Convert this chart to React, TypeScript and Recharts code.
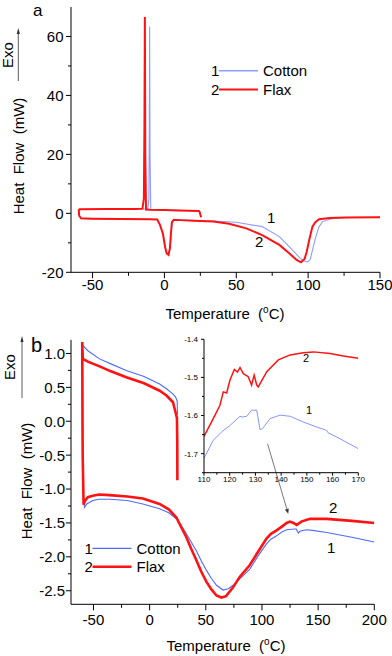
import { LineChart, Line, XAxis, YAxis, ReferenceLine } from 'recharts'

// panel a: cooling then heating, points in scan order (T °C, heat flow mW)
const cottonA = [
  { t: 25.5, v: -1.3 }, { t: 24.5, v: 0.5 }, { t: 24, v: 0.8 }, { t: 10, v: 1.0 }, { t: 0, v: 1.1 },
  { t: -9.5, v: 1.2 }, { t: -10.0, v: 20 }, { t: -10.3, v: 63.3 }, { t: -10.5, v: 30 }, { t: -10.8, v: 5 },
  { t: -11.5, v: 1.5 }, { t: -20, v: 1.4 }, { t: -40, v: 1.4 }, { t: -59, v: 1.3 }, { t: -59.6, v: 1.0 },
  { t: -59.3, v: -0.8 }, { t: -58, v: -1.8 }, { t: -30, v: -2.0 }, { t: -5, v: -2.1 }, { t: -3, v: -4 },
  { t: -1, v: -7 }, { t: 0.5, v: -11.5 }, { t: 1.8, v: -13.5 }, { t: 3.0, v: -13.8 }, { t: 4, v: -11.5 },
  { t: 4.8, v: -6.5 }, { t: 5.5, v: -3 }, { t: 7, v: -2.2 }, { t: 20, v: -2.4 }, { t: 34, v: -2.6 },
  { t: 50, v: -3.0 }, { t: 57, v: -3.6 }, { t: 68, v: -4.5 }, { t: 80, v: -7.9 }, { t: 89, v: -12.4 },
  { t: 94, v: -15 }, { t: 97.2, v: -16.2 }, { t: 99.5, v: -16.5 }, { t: 101.5, v: -15.6 }, { t: 103, v: -12.5 },
  { t: 105, v: -8.5 }, { t: 107.5, v: -4.6 }, { t: 110, v: -2.8 }, { t: 115, v: -2.0 }, { t: 120, v: -1.6 },
  { t: 130, v: -1.4 }, { t: 150, v: -1.3 },
]
const flaxA = [
  { t: 25.5, v: -1.3 }, { t: 24.5, v: 0.5 }, { t: 24, v: 0.8 }, { t: 10, v: 1.0 }, { t: 0, v: 1.1 },
  { t: -10, v: 1.2 }, { t: -12.8, v: 1.3 }, { t: -13.3, v: 20 }, { t: -13.6, v: 66.6 }, { t: -13.9, v: 30 },
  { t: -14.3, v: 5 }, { t: -15.3, v: 1.6 }, { t: -20, v: 1.5 }, { t: -40, v: 1.5 }, { t: -59, v: 1.4 },
  { t: -59.6, v: 1.0 }, { t: -59.3, v: -0.8 }, { t: -58, v: -1.7 }, { t: -50, v: -1.8 }, { t: -30, v: -1.9 },
  { t: -10, v: -2.0 }, { t: -5, v: -2.1 }, { t: -3, v: -4 }, { t: -1, v: -7 }, { t: 0.5, v: -11.5 },
  { t: 1.5, v: -13.5 }, { t: 2.8, v: -14.1 }, { t: 3.8, v: -12 }, { t: 4.5, v: -7 }, { t: 5.2, v: -3.0 },
  { t: 6.5, v: -2.2 }, { t: 11, v: -2.3 }, { t: 20, v: -2.5 }, { t: 34, v: -2.8 }, { t: 45, v: -3.5 },
  { t: 57, v: -5.1 }, { t: 68, v: -7.4 }, { t: 80, v: -10.7 }, { t: 87, v: -13.6 }, { t: 92, v: -15.8 },
  { t: 95, v: -16.6 }, { t: 97.5, v: -15.5 }, { t: 99, v: -13 }, { t: 100.7, v: -9.1 }, { t: 103, v: -4.5 },
  { t: 105, v: -3.0 }, { t: 107.6, v: -2.0 }, { t: 115, v: -1.6 }, { t: 126, v: -1.4 }, { t: 150, v: -1.3 },
]

// panel b
const cottonB = [
  { t: 24.8, v: 0.1 }, { t: 24.5, v: 0.3 }, { t: 23, v: 0.36 }, { t: 20.8, v: 0.4 }, { t: 15, v: 0.48 },
  { t: 8.9, v: 0.55 }, { t: -5, v: 0.66 }, { t: -20.8, v: 0.75 }, { t: -35, v: 0.85 }, { t: -44.6, v: 0.92 },
  { t: -55, v: 1.04 }, { t: -59.5, v: 1.12 }, { t: -60, v: 1.13 }, { t: -60, v: 0 }, { t: -59.3, v: -1.0 },
  { t: -58, v: -1.27 }, { t: -56, v: -1.22 }, { t: -50.6, v: -1.17 }, { t: -45, v: -1.15 }, { t: -35.7, v: -1.15 },
  { t: -20, v: -1.17 }, { t: -6, v: -1.22 }, { t: 8.8, v: -1.29 }, { t: 17, v: -1.35 }, { t: 23.8, v: -1.44 },
  { t: 28, v: -1.53 }, { t: 32.7, v: -1.66 }, { t: 37, v: -1.78 }, { t: 41.6, v: -1.91 }, { t: 46, v: -2.06 },
  { t: 50.6, v: -2.2 }, { t: 55, v: -2.32 }, { t: 59.5, v: -2.42 }, { t: 65.4, v: -2.49 }, { t: 70, v: -2.47 },
  { t: 74.3, v: -2.42 }, { t: 80, v: -2.33 }, { t: 89.2, v: -2.18 }, { t: 96, v: -2.0 }, { t: 104, v: -1.81 },
  { t: 108, v: -1.74 }, { t: 113, v: -1.69 }, { t: 118, v: -1.63 }, { t: 122, v: -1.6 }, { t: 129, v: -1.59 },
  { t: 130.5, v: -1.59 }, { t: 132.3, v: -1.65 }, { t: 134, v: -1.62 }, { t: 139.8, v: -1.6 }, { t: 145, v: -1.61 },
  { t: 157.6, v: -1.64 }, { t: 180, v: -1.71 }, { t: 200, v: -1.78 },
]
const flaxB = [
  { t: 24.7, v: -0.87 }, { t: 24.6, v: -0.3 }, { t: 24.3, v: 0.05 }, { t: 23.1, v: 0.13 }, { t: 20.8, v: 0.28 },
  { t: 15, v: 0.38 }, { t: 8.9, v: 0.45 }, { t: -5, v: 0.56 }, { t: -20.8, v: 0.65 }, { t: -35, v: 0.74 },
  { t: -44.6, v: 0.81 }, { t: -55, v: 0.88 }, { t: -59.5, v: 0.92 }, { t: -60, v: 1.17 }, { t: -59.6, v: -0.5 },
  { t: -58.8, v: -1.23 }, { t: -57.5, v: -1.17 }, { t: -55, v: -1.12 }, { t: -50.6, v: -1.1 }, { t: -45, v: -1.08 },
  { t: -35.7, v: -1.09 }, { t: -20, v: -1.11 }, { t: -6, v: -1.14 }, { t: 8.8, v: -1.22 }, { t: 17, v: -1.3 },
  { t: 23.8, v: -1.42 }, { t: 28, v: -1.56 }, { t: 32.7, v: -1.71 }, { t: 37, v: -1.88 }, { t: 41.6, v: -2.05 },
  { t: 46, v: -2.22 }, { t: 50.6, v: -2.37 }, { t: 55, v: -2.48 }, { t: 59.5, v: -2.57 }, { t: 63.9, v: -2.6 },
  { t: 68, v: -2.58 }, { t: 74.3, v: -2.45 }, { t: 80, v: -2.3 }, { t: 89.2, v: -2.12 }, { t: 96, v: -1.94 },
  { t: 104, v: -1.73 }, { t: 108, v: -1.66 }, { t: 113, v: -1.61 }, { t: 118, v: -1.55 }, { t: 122, v: -1.5 },
  { t: 124.9, v: -1.48 }, { t: 128, v: -1.5 }, { t: 130.9, v: -1.53 }, { t: 135, v: -1.48 }, { t: 142.7, v: -1.44 },
  { t: 157.6, v: -1.44 }, { t: 180, v: -1.47 }, { t: 200, v: -1.5 },
]

// inset, 110-170 °C
const cottonInset = [
  { t: 110, v: -1.712 }, { t: 113.6, v: -1.665 }, { t: 117, v: -1.642 }, { t: 120.1, v: -1.626 }, { t: 124, v: -1.602 },
  { t: 125, v: -1.604 }, { t: 126.6, v: -1.602 }, { t: 128.5, v: -1.586 }, { t: 130.5, v: -1.586 }, { t: 131.8, v: -1.637 },
  { t: 132.8, v: -1.634 }, { t: 135.7, v: -1.608 }, { t: 139.6, v: -1.599 }, { t: 143.5, v: -1.602 }, { t: 148.6, v: -1.617 },
  { t: 153.8, v: -1.63 }, { t: 157.7, v: -1.639 }, { t: 158.2, v: -1.645 }, { t: 162.9, v: -1.661 }, { t: 170, v: -1.687 },
]
const flaxInset = [
  { t: 110, v: -1.655 }, { t: 113.6, v: -1.608 }, { t: 116.2, v: -1.573 }, { t: 117.5, v: -1.538 }, { t: 118.8, v: -1.541 },
  { t: 120.1, v: -1.507 }, { t: 121.8, v: -1.479 }, { t: 123, v: -1.486 }, { t: 124, v: -1.474 }, { t: 125.3, v: -1.49 },
  { t: 127.2, v: -1.498 }, { t: 128.5, v: -1.52 }, { t: 129.5, v: -1.494 }, { t: 130.5, v: -1.52 }, { t: 131.1, v: -1.525 },
  { t: 134.4, v: -1.485 }, { t: 138.9, v: -1.454 }, { t: 143.5, v: -1.441 }, { t: 148.6, v: -1.435 }, { t: 152.5, v: -1.433 },
  { t: 159, v: -1.437 }, { t: 164.2, v: -1.444 }, { t: 170, v: -1.45 },
]

const ticksAX = [-50, -25, 0, 25, 50, 75, 100, 125, 150]
const ticksAY = [-20, -10, 0, 10, 20, 30, 40, 50, 60]
const ticksBX = [-50, -25, 0, 25, 50, 75, 100, 125, 150, 175, 200]
const ticksBY = [-2.5, -2.25, -2.0, -1.75, -1.5, -1.25, -1.0, -0.75, -0.5, -0.25, 0, 0.25, 0.5, 0.75, 1.0]
const ticksIX = [110, 115, 120, 125, 130, 135, 140, 145, 150, 155, 160, 165, 170]
const ticksIY = [-1.75, -1.7, -1.65, -1.6, -1.55, -1.5, -1.45, -1.4]

const seriesNames = ['Cotton', 'Flax']

const FONT = '"Liberation Sans", Arial, sans-serif'
const RED = '#ff1212'
const BLUE_A = '#8e9bff'
const BLUE_B = '#4d6bff'

type TickOpts = {
  step: number
  len: number
  minorLen: number
  size: number
  gap: number
  side: 'bottom' | 'left'
  fmt: (v: number) => string
}

function makeTick(o: TickOpts) {
  return (props: any) => {
    const { x, y, payload } = props
    const v = payload.value
    const major = Math.abs(v / o.step - Math.round(v / o.step)) < 1e-6
    const l = major ? o.len : o.minorLen
    if (o.side === 'bottom') {
      return (
        <g>
          <line x1={x} y1={y} x2={x} y2={y + l} stroke="#000" />
          {major && (
            <text x={x} y={y + o.gap} textAnchor="middle" fontSize={o.size} fontFamily={FONT} fill="#000">
              {o.fmt(v)}
            </text>
          )}
        </g>
      )
    }
    return (
      <g>
        <line x1={x} y1={y} x2={x - l} y2={y} stroke="#000" />
        {major && (
          <text x={x - o.gap} y={y} dy="0.36em" textAnchor="end" fontSize={o.size} fontFamily={FONT} fill="#000">
            {o.fmt(v)}
          </text>
        )}
      </g>
    )
  }
}

const int = (v: number) => String(Math.round(v))
const one = (v: number) => v.toFixed(1)

function ArrowLine(props: any) {
  const { x1, y1, x2, y2 } = props
  const dx = x2 - x1
  const dy = y2 - y1
  const d = Math.sqrt(dx * dx + dy * dy)
  const ux = dx / d
  const uy = dy / d
  const hl = 5
  const hw = 2
  const bx = x2 - ux * hl
  const by = y2 - uy * hl
  return (
    <g>
      <line x1={x1} y1={y1} x2={bx} y2={by} stroke="#555" strokeWidth={0.8} />
      <polygon
        points={`${x2},${y2} ${bx - uy * hw},${by + ux * hw} ${bx + uy * hw},${by - ux * hw}`}
        fill="#333"
      />
    </g>
  )
}

function TempTitle({ x, y }: { x: number; y: number }) {
  return (
    <text x={x} y={y} textAnchor="middle" fontSize={15} fontFamily={FONT} style={{ whiteSpace: 'pre' }}>
      {'Temperature  ('}
      <tspan fontSize={10} dy={-6}>o</tspan>
      <tspan dy={6}>C)</tspan>
    </text>
  )
}

function YTitle({ x, y }: { x: number; y: number }) {
  return (
    <text
      transform={`translate(${x},${y}) rotate(-90)`}
      textAnchor="middle"
      fontSize={15}
      fontFamily={FONT}
      style={{ whiteSpace: 'pre' }}
    >
      {'Heat  Flow  (mW)'}
    </text>
  )
}

function Exo({ x, y, ax, top, bottom }: { x: number; y: number; ax: number; top: number; bottom: number }) {
  return (
    <g>
      <text transform={`translate(${x},${y}) rotate(-90)`} textAnchor="middle" fontSize={15} fontFamily={FONT}>
        Exo
      </text>
      <line x1={ax} y1={bottom} x2={ax} y2={top + 4} stroke="#333" strokeWidth={0.8} />
      <polygon points={`${ax},${top} ${ax - 1.6},${top + 6} ${ax + 1.6},${top + 6}`} fill="#333" />
    </g>
  )
}

function LegendBox({ x, y, dy, colors, widths }: { x: number; y: number; dy: number; colors: string[]; widths: number[] }) {
  return (
    <g fontFamily={FONT} fontSize={15}>
      {seriesNames.map((n, i) => (
        <g key={n}>
          <text x={x} y={y + i * dy + 5.5}>{i + 1}</text>
          <line x1={x + 8} x2={x + 47} y1={y + i * dy} y2={y + i * dy} stroke={colors[i]} strokeWidth={widths[i]} />
          <text x={x + 52} y={y + i * dy + 5.5}>{n}</text>
        </g>
      ))}
    </g>
  )
}

export default function App() {
  return (
    <div style={{ position: 'absolute', left: 0, top: 0, width: 392, height: 656, background: '#fff', fontFamily: FONT }}>
      <div style={{ position: 'absolute', left: 0, top: 0 }}>
        <LineChart width={392} height={330} margin={{ top: 7, right: 12, bottom: 0, left: 0 }}>
          <XAxis
            dataKey="t"
            type="number"
            domain={[-65, 150]}
            allowDataOverflow
            ticks={ticksAX}
            interval={0}
            height={57.7}
            tickSize={0}
            tickMargin={0}
            stroke="#000"
            tick={makeTick({ step: 50, len: 6, minorLen: 3.5, size: 15, gap: 18, side: 'bottom', fmt: int })}
          />
          <YAxis
            type="number"
            domain={[-20, 70]}
            allowDataOverflow
            ticks={ticksAY}
            interval={0}
            width={71}
            tickSize={0}
            tickMargin={0}
            stroke="#000"
            tick={makeTick({ step: 20, len: 5, minorLen: 3, size: 15, gap: 7.5, side: 'left', fmt: int })}
          />
          <Line data={cottonA} dataKey="v" name="Cotton" type="linear" dot={false} stroke={BLUE_A} strokeWidth={1.1} isAnimationActive={false} />
          <Line data={flaxA} dataKey="v" name="Flax" type="linear" dot={false} stroke={RED} strokeWidth={2} isAnimationActive={false} />
        </LineChart>
      </div>

      <div style={{ position: 'absolute', left: 0, top: 332 }}>
        <LineChart width={392} height={324} margin={{ top: 7.9, right: 17.7, bottom: 0, left: 0 }}>
          <XAxis
            dataKey="t"
            type="number"
            domain={[-70, 200]}
            allowDataOverflow
            ticks={ticksBX}
            interval={0}
            height={51.7}
            tickSize={0}
            tickMargin={0}
            stroke="#000"
            tick={makeTick({ step: 50, len: 6, minorLen: 3.5, size: 15, gap: 21, side: 'bottom', fmt: int })}
          />
          <YAxis
            type="number"
            domain={[-2.7, 1.2]}
            allowDataOverflow
            ticks={ticksBY}
            interval={0}
            width={71}
            tickSize={0}
            tickMargin={0}
            stroke="#000"
            tick={makeTick({ step: 0.5, len: 5, minorLen: 3, size: 15, gap: 6, side: 'left', fmt: one })}
          />
          <Line data={cottonB} dataKey="v" name="Cotton" type="linear" dot={false} stroke={BLUE_B} strokeWidth={1.1} isAnimationActive={false} />
          <Line data={flaxB} dataKey="v" name="Flax" type="linear" dot={false} stroke={RED} strokeWidth={2.6} isAnimationActive={false} />
          <ReferenceLine
            segment={[{ x: 105, y: -0.333 }, { x: 123.4, y: -1.366 }]}
            shape={ArrowLine}
          />
        </LineChart>
      </div>

      <div style={{ position: 'absolute', left: 170, top: 330 }}>
        <LineChart width={200} height={160} margin={{ top: 9.3, right: 11.7, bottom: 0, left: 0 }}>
          <XAxis
            dataKey="t"
            type="number"
            domain={[110, 170]}
            allowDataOverflow
            ticks={ticksIX}
            interval={0}
            height={17.3}
            tickSize={0}
            tickMargin={0}
            stroke="#000"
            tick={makeTick({ step: 10, len: 3, minorLen: 2, size: 8, gap: 9.5, side: 'bottom', fmt: int })}
          />
          <YAxis
            type="number"
            domain={[-1.75, -1.4]}
            allowDataOverflow
            ticks={ticksIY}
            interval={0}
            width={34}
            tickSize={0}
            tickMargin={0}
            stroke="#000"
            tick={makeTick({ step: 0.1, len: 3, minorLen: 2, size: 8, gap: 6, side: 'left', fmt: one })}
          />
          <Line data={cottonInset} dataKey="v" name="Cotton" type="linear" dot={false} stroke="#8595ff" strokeWidth={1} isAnimationActive={false} />
          <Line data={flaxInset} dataKey="v" name="Flax" type="linear" dot={false} stroke={RED} strokeWidth={1.5} isAnimationActive={false} />
        </LineChart>
      </div>

      <svg width={392} height={656} style={{ position: 'absolute', left: 0, top: 0, pointerEvents: 'none' }}>
        {/* panel a */}
        <text x={33} y={16} fontSize={17} fontFamily={FONT}>a</text>
        <Exo x={13} y={55} ax={18.3} top={28} bottom={81} />
        <YTitle x={24} y={156} />
        <TempTitle x={225} y={319} />
        <LegendBox x={211} y={70.7} dy={18.7} colors={[BLUE_A, RED]} widths={[1.5, 2]} />
        <text x={267} y={223} fontSize={15} fontFamily={FONT}>1</text>
        <text x={255} y={247} fontSize={15} fontFamily={FONT}>2</text>

        {/* panel b */}
        <text x={31} y={352} fontSize={20} fontFamily={FONT}>b</text>
        <Exo x={15} y={367} ax={22} top={336} bottom={398} />
        <YTitle x={32} y={481} />
        <TempTitle x={226} y={651} />
        <LegendBox x={84.5} y={548.3} dy={18.4} colors={[BLUE_B, RED]} widths={[1.2, 2.6]} />
        <text x={329} y={513} fontSize={15} fontFamily={FONT}>2</text>
        <text x={327} y={553} fontSize={15} fontFamily={FONT}>1</text>
        <text x={303} y={362} fontSize={11} fontFamily={FONT}>2</text>
        <text x={306} y={414} fontSize={11} fontFamily={FONT}>1</text>
      </svg>
    </div>
  )
}
